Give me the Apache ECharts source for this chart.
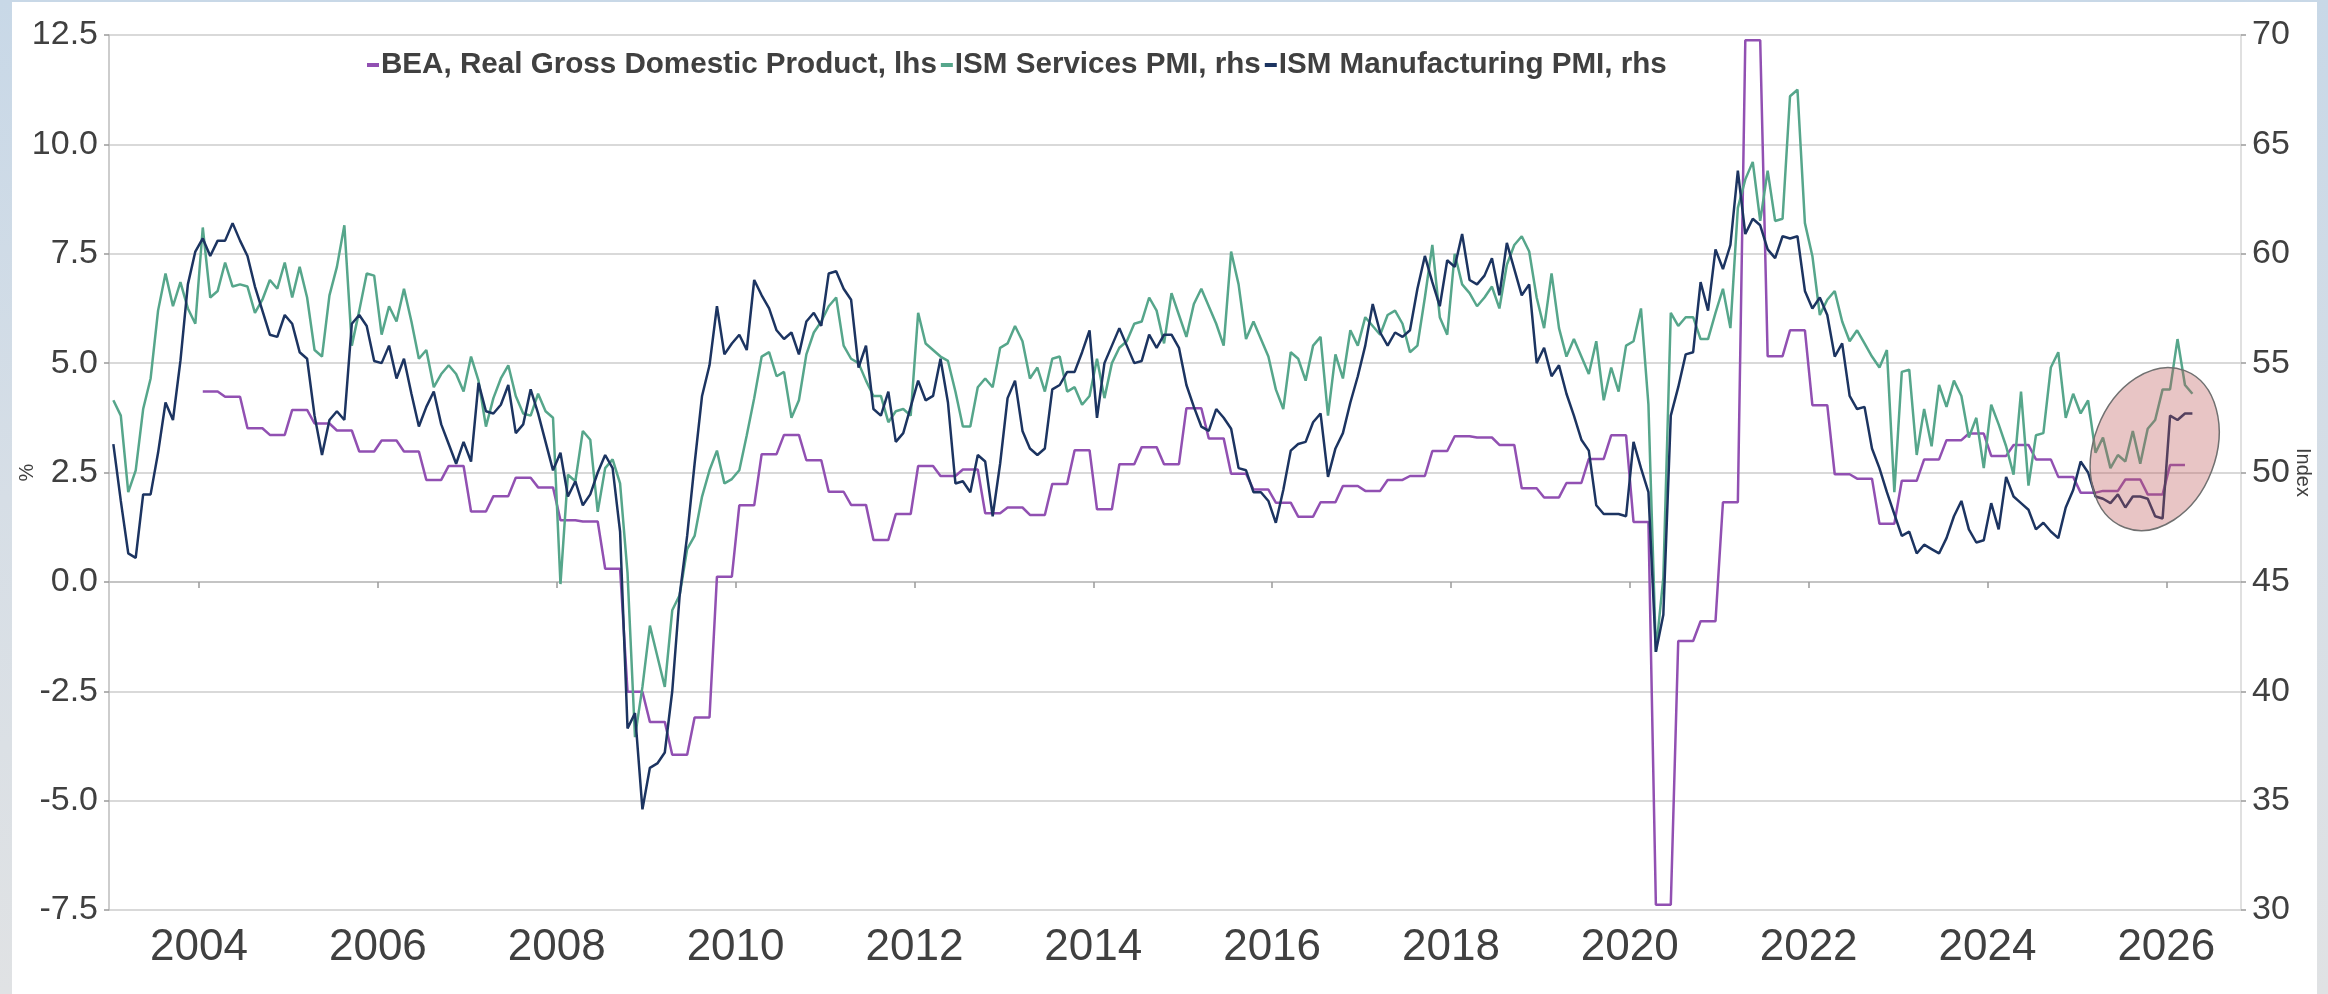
<!DOCTYPE html>
<html>
<head>
<meta charset="utf-8">
<script src="https://cdn.jsdelivr.net/npm/echarts@6/dist/echarts.min.js"></script>
<style>
  html, body { margin: 0; padding: 0; width: 2328px; height: 994px; overflow: hidden;
    background: linear-gradient(to bottom, #c8d8e7 0%, #d6dee6 50%, #e0e2e4 100%); }
  #panel { position: absolute; left: 12px; top: 2px; width: 2305px; height: 992px; background: #ffffff; }
  #chart { position: absolute; left: 0; top: 0; width: 2328px; height: 994px; }
</style>
</head>
<body>
<div id="panel"></div>
<div id="chart"></div>
<script>
// ---- data ----
const startYear = 2003;           // first monthly observation: Jan 2003
const seriesNames = ['BEA, Real Gross Domestic Product, lhs', 'ISM Services PMI, rhs', 'ISM Manufacturing PMI, rhs'];
const yearTicks = [2004, 2006, 2008, 2010, 2012, 2014, 2016, 2018, 2020, 2022, 2024, 2026];

// ISM Manufacturing PMI, monthly from Jan 2003
const ismManufacturing = [
  51.3, 48.7, 46.3, 46.1, 49.0, 49.0, 50.9, 53.2, 52.4, 55.1, 58.6, 60.1,
  60.7, 59.9, 60.6, 60.6, 61.4, 60.6, 59.9, 58.5, 57.4, 56.3, 56.2, 57.2,
  56.8, 55.5, 55.2, 52.6, 50.8, 52.4, 52.8, 52.4, 56.8, 57.2, 56.7, 55.1,
  55.0, 55.8, 54.3, 55.2, 53.6, 52.1, 53.0, 53.7, 52.2, 51.3, 50.4, 51.4,
  50.5, 54.1, 52.8, 52.7, 53.1, 54.0, 51.8, 52.2, 53.8, 52.7, 51.4, 50.1,
  50.9, 48.9, 49.6, 48.5, 49.0, 50.0, 50.8, 50.2, 47.3, 38.3, 39.0, 34.6,
  36.5, 36.7, 37.2, 40.0, 44.4, 47.1, 50.4, 53.5, 54.9, 57.6, 55.4, 55.9,
  56.3, 55.6, 58.8, 58.1, 57.5, 56.5, 56.1, 56.4, 55.4, 56.9, 57.3, 56.7,
  59.1, 59.2, 58.4, 57.9, 54.8, 55.8, 52.9, 52.6, 53.7, 51.4, 51.8, 53.0,
  54.2, 53.3, 53.5, 55.2, 53.2, 49.5, 49.6, 49.1, 50.8, 50.5, 48.0, 50.4,
  53.4, 54.2, 51.9, 51.1, 50.8, 51.1, 53.8, 54.0, 54.6, 54.6, 55.5, 56.5,
  52.5, 55.0, 55.8, 56.6, 55.8, 55.0, 55.1, 56.3, 55.7, 56.3, 56.3, 55.7,
  54.0, 53.0, 52.1, 51.9, 52.9, 52.5, 52.0, 50.2, 50.1, 49.1, 49.1, 48.7,
  47.7, 49.2, 51.0, 51.3, 51.4, 52.3, 52.7, 49.8, 51.1, 51.8, 53.2, 54.4,
  55.8, 57.7, 56.4, 55.8, 56.4, 56.2, 56.5, 58.4, 59.9, 58.7, 57.6, 59.7,
  59.4, 60.9, 58.8, 58.6, 59.0, 59.8, 58.1, 60.5, 59.3, 58.1, 58.6, 55.0,
  55.7, 54.4, 54.9, 53.6, 52.6, 51.5, 51.0, 48.5, 48.1, 48.1, 48.1, 48.0,
  51.4, 50.2, 49.1, 41.8, 43.5, 52.6, 53.9, 55.4, 55.5, 58.7, 57.4, 60.2,
  59.3, 60.4, 63.8, 60.9, 61.6, 61.3, 60.2, 59.8, 60.8, 60.7, 60.8, 58.3,
  57.5, 58.0, 57.2, 55.3, 55.9, 53.5, 52.9, 53.0, 51.1, 50.2, 49.1, 48.1,
  47.1, 47.3, 46.3, 46.7, 46.5, 46.3, 47.0, 48.0, 48.7, 47.4, 46.8, 46.9,
  48.6, 47.4, 49.8, 48.9, 48.6, 48.3, 47.4, 47.7, 47.3, 47.0, 48.4, 49.2,
  50.5, 50.0, 48.9, 48.8, 48.6, 49.0, 48.4, 48.9, 48.9, 48.8, 48.0, 47.9,
  52.6, 52.4, 52.7, 52.7
];

// ISM Services PMI, monthly from Jan 2003
const ismServices = [
  53.3, 52.6, 49.1, 50.1, 52.9, 54.3, 57.4, 59.1, 57.6, 58.7, 57.5, 56.8,
  61.2, 58.0, 58.3, 59.6, 58.5, 58.6, 58.5, 57.3, 57.9, 58.8, 58.4, 59.6,
  58.0, 59.4, 58.0, 55.6, 55.3, 58.1, 59.4, 61.3, 55.8, 57.4, 59.1, 59.0,
  56.3, 57.6, 56.9, 58.4, 56.9, 55.2, 55.6, 53.9, 54.5, 54.9, 54.5, 53.7,
  55.3, 54.2, 52.1, 53.4, 54.3, 54.9, 53.5, 52.7, 52.6, 53.6, 52.8, 52.5,
  44.9, 49.9, 49.6, 51.9, 51.5, 48.2, 50.2, 50.6, 49.5, 45.4, 37.9, 40.2,
  43.0, 41.6, 40.2, 43.7, 44.4, 46.5, 47.1, 48.9, 50.1, 51.0, 49.5, 49.7,
  50.1, 51.7, 53.4, 55.3, 55.5, 54.4, 54.6, 52.5, 53.3, 55.4, 56.4, 56.9,
  57.6, 58.0, 55.8, 55.2, 55.0, 54.2, 53.5, 53.5, 52.3, 52.8, 52.9, 52.6,
  57.3, 55.9, 55.6, 55.3, 55.1, 53.7, 52.1, 52.1, 53.9, 54.3, 53.9, 55.7,
  55.9, 56.7, 56.0, 54.3, 54.8, 53.7, 55.2, 55.3, 53.7, 53.9, 53.1, 53.5,
  55.2, 53.4, 55.0, 55.7, 56.0, 56.8, 56.9, 58.0, 57.4, 55.9, 58.2, 57.2,
  56.2, 57.7, 58.4, 57.6, 56.8, 55.8, 60.1, 58.6, 56.1, 56.9, 56.1, 55.3,
  53.8, 52.9, 55.5, 55.2, 54.2, 55.8, 56.2, 52.6, 55.4, 54.3, 56.5, 55.8,
  57.1, 56.7, 56.3, 57.2, 57.4, 56.8, 55.5, 55.8, 58.0, 60.4, 57.1, 56.3,
  60.0, 58.6, 58.2, 57.6, 58.0, 58.5, 57.5, 59.5, 60.4, 60.8, 60.1, 58.0,
  56.6, 59.1, 56.6, 55.3, 56.1, 55.3, 54.5, 56.0, 53.3, 54.8, 53.7, 55.8,
  56.0, 57.5, 53.1, 41.8, 45.2, 57.3, 56.7, 57.1, 57.1, 56.1, 56.1, 57.3,
  58.4, 56.6, 62.1, 63.4, 64.2, 61.5, 63.8, 61.5, 61.6, 67.2, 67.5, 61.4,
  59.9, 57.2, 57.9, 58.3, 56.9, 56.0, 56.5, 55.9, 55.3, 54.8, 55.6, 49.1,
  54.6, 54.7, 50.8, 52.9, 51.2, 54.0, 53.0, 54.2, 53.5, 51.6, 52.5, 50.2,
  53.1, 52.2, 51.2, 49.9, 53.7, 49.4, 51.7, 51.8, 54.8, 55.5, 52.5, 53.6,
  52.7, 53.3, 50.9, 51.6, 50.2, 50.8, 50.5, 51.9, 50.4, 52.0, 52.4, 53.8,
  53.8, 56.1, 54.0, 53.6
];

// BEA Real GDP, % y/y, quarterly from Q1 2004 (drawn monthly, 3 months per quarter)
const gdpStartYear = 2004;
const realGdpQuarterly = [
  4.35, 4.23, 3.51, 3.36,
  3.93, 3.62, 3.46, 2.98,
  3.23, 2.98, 2.33, 2.65,
  1.61, 1.96, 2.38, 2.16,
  1.41, 1.38, 0.30, -2.51,
  -3.20, -3.95, -3.10, 0.12,
  1.75, 2.92, 3.36, 2.78,
  2.06, 1.76, 0.96, 1.55,
  2.65, 2.42, 2.57, 1.57,
  1.70, 1.53, 2.24, 3.01,
  1.66, 2.69, 3.08, 2.69,
  3.97, 3.28, 2.47, 2.11,
  1.81, 1.49, 1.82, 2.19,
  2.08, 2.33, 2.42, 2.99,
  3.33, 3.30, 3.13, 2.14,
  1.93, 2.26, 2.81, 3.35,
  1.37, -7.38, -1.35, -0.90,
  1.82, 12.38, 5.16, 5.75,
  4.04, 2.46, 2.36, 1.33,
  2.31, 2.80, 3.24, 3.39,
  2.88, 3.13, 2.80, 2.40,
  2.04, 2.08, 2.34, 2.00,
  2.67
];

// ---- build series points (monthly observations plotted mid-month) ----
function monthlyPoints(y0, values) {
  return values.map((v, i) => [y0 + (i + 0.5) / 12, v]);
}
const gdpMonthly = [];
realGdpQuarterly.forEach(v => { gdpMonthly.push(v, v, v); });

const FONT = "'Liberation Sans Narrow', 'Arial Narrow', 'Liberation Sans', Arial, sans-serif";
const TXT = '#404040';
const colors = ['#9150b2', '#56a68b', '#1c3461'];

const chart = echarts.init(document.getElementById('chart'), null, { renderer: 'canvas' });
const option = {
  backgroundColor: 'transparent',
  animation: false,
  color: colors,
  textStyle: { fontFamily: FONT },
  grid: { left: 109, right: 87, top: 35, bottom: 84, containLabel: false, outerBoundsMode: 'none' },
  legend: {
    left: 362, top: 45,
    icon: 'rect', itemWidth: 12, itemHeight: 4, itemGap: 4,
    textStyle: { fontFamily: FONT, fontSize: 29.6, fontWeight: 'bold', color: TXT, padding: [0, 0, 0, -3] },
    data: seriesNames
  },
  xAxis: {
    type: 'value', min: 2002.993, max: 2026.835,
    axisLine: { show: true, lineStyle: { color: '#bdbdbd', width: 1.5 } },
    axisTick: { show: true, length: 6, lineStyle: { color: '#9a9a9a', width: 1.5 }, customValues: yearTicks },
    axisLabel: { customValues: yearTicks, fontSize: 44, color: TXT, margin: 16, fontFamily: FONT,
      formatter: v => String(Math.round(v)) },
    splitLine: { show: false }
  },
  yAxis: [
    {
      type: 'value', min: -7.5, max: 12.5, interval: 2.5, position: 'left',
      name: '%', nameLocation: 'middle', nameGap: 72, nameRotate: 90, nameMoveOverlap: false,
      nameTextStyle: { fontSize: 20, color: TXT, fontFamily: FONT },
      axisLine: { show: true, lineStyle: { color: '#bdbdbd', width: 1.5 } },
      axisTick: { show: true, length: 5, lineStyle: { color: '#9a9a9a', width: 1.5 } },
      axisLabel: { fontSize: 34, color: TXT, margin: 11, fontFamily: FONT, formatter: v => v.toFixed(1) },
      splitLine: { show: true, lineStyle: { color: '#cdcdcd', width: 1.5 } }
    },
    {
      type: 'value', min: 30, max: 70, interval: 5, position: 'right',
      name: 'Index', nameLocation: 'middle', nameGap: 52, nameRotate: -90, nameMoveOverlap: false,
      nameTextStyle: { fontSize: 20, color: TXT, fontFamily: FONT },
      axisLine: { show: true, lineStyle: { color: '#d6d6d6', width: 1.5 } },
      axisTick: { show: true, length: 5, lineStyle: { color: '#9a9a9a', width: 1.5 } },
      axisLabel: { fontSize: 34, color: TXT, margin: 11, fontFamily: FONT },
      splitLine: { show: false }
    }
  ],
  series: [
    { name: seriesNames[0], type: 'line', yAxisIndex: 0, showSymbol: false,
      lineStyle: { width: 2.5, color: colors[0] }, itemStyle: { color: colors[0] },
      data: monthlyPoints(gdpStartYear, gdpMonthly) },
    { name: seriesNames[1], type: 'line', yAxisIndex: 1, showSymbol: false,
      lineStyle: { width: 2.5, color: colors[1] }, itemStyle: { color: colors[1] },
      data: monthlyPoints(startYear, ismServices) },
    { name: seriesNames[2], type: 'line', yAxisIndex: 1, showSymbol: false,
      lineStyle: { width: 2.5, color: colors[2] }, itemStyle: { color: colors[2] },
      data: monthlyPoints(startYear, ismManufacturing) }
  ]
};
chart.setOption(option);

// highlight ellipse around the latest readings (placed via the axes' scales)
const c = chart.convertToPixel({ xAxisIndex: 0, yAxisIndex: 1 }, [2025.87, 51.07]);
chart.setOption({
  graphic: [{
    type: 'ellipse', z: 100, x: c[0], y: c[1], rotation: -21 * Math.PI / 180,
    shape: { cx: 0, cy: 0, rx: 61, ry: 84 },
    style: { fill: 'rgba(189, 89, 89, 0.35)', stroke: '#707070', lineWidth: 1.5 },
    silent: true
  }]
});
</script>
</body>
</html>
